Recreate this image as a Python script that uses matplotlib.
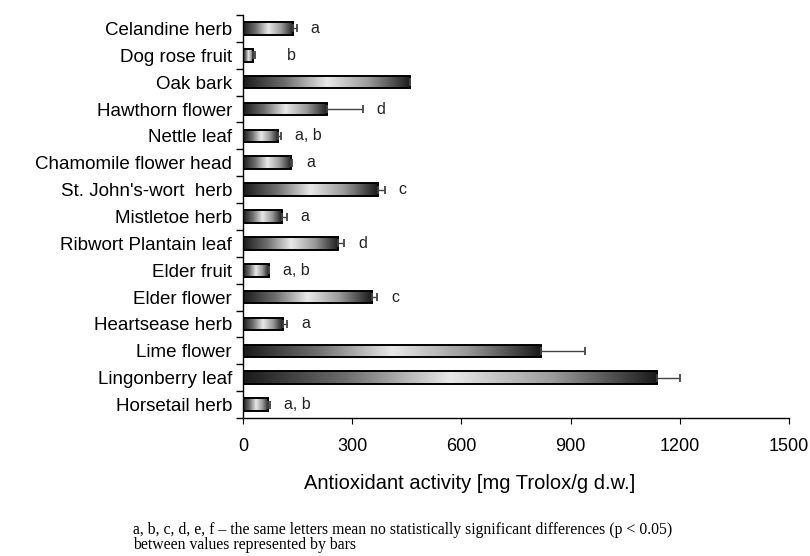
import numpy as np
import matplotlib
matplotlib.use("Agg")
import matplotlib.pyplot as plt
from matplotlib.colors import LinearSegmentedColormap
from matplotlib.patches import Rectangle

# data, top to bottom as in the chart
plants = ["Celandine herb", "Dog rose fruit", "Oak bark", "Hawthorn flower",
          "Nettle leaf", "Chamomile flower head", "St. John's-wort  herb",
          "Mistletoe herb", "Ribwort Plantain leaf", "Elder fruit",
          "Elder flower", "Heartsease herb", "Lime flower", "Lingonberry leaf",
          "Horsetail herb"]
activity = [138, 28, 459, 232, 97, 132, 370, 106, 262, 71, 354, 109, 818, 1137, 70]
sd = [9, 4, 0, 97, 7, 3, 20, 14, 16, 0, 15, 13, 122, 64, 5]
letters = ["a", "b", "", "d", "a, b", "a", "c", "a", "d", "a, b", "c", "a", "", "", "a, b"]

plt.rcParams['font.family'] = ['Liberation Sans', 'DejaVu Sans']

fig = plt.figure(figsize=(8.1, 5.56), dpi=100)
ax = fig.add_axes([243 / 810, 1 - 418 / 556, 546 / 810, 403 / 556])

y = np.arange(len(plants))
h = 0.47
cmap = LinearSegmentedColormap.from_list(
    "bar", ["#1a1a1a", "#6e6e6e", "#e8e8e8", "#9a9a9a", "#1a1a1a"])
grad = np.linspace(0, 1, 256).reshape(1, -1)

for yi, v in zip(y, activity):
    im = ax.imshow(grad, cmap=cmap, aspect="auto",
                   extent=[0, v, yi + h / 2, yi - h / 2], zorder=2)
    rect = Rectangle((0, yi - h / 2), v, h, facecolor="none",
                     edgecolor="black", linewidth=1.4, zorder=3)
    ax.add_patch(rect)
    im.set_clip_path(rect)

ax.errorbar(activity, y, xerr=[np.zeros(len(sd)), sd], fmt="none",
            ecolor="#444444", elinewidth=1.0, capsize=3, capthick=1.3, zorder=4)

for yi, v, e, t in zip(y, activity, sd, letters):
    if t:
        off = 23 if v < 40 else 10
        ax.annotate(t, (v + e, yi), xytext=(off, 0), textcoords="offset points",
                    va="center", ha="left", fontsize=11.5, color="#222222")

ax.set_xlim(0, 1500)
ax.set_ylim(len(plants) - 0.5, -0.5)
ax.set_xticks([0, 300, 600, 900, 1200, 1500])
ax.set_yticks(y)
ax.set_yticklabels(plants, fontsize=13.5)
ax.set_yticks(np.arange(len(plants) + 1) - 0.5, minor=True)
ax.tick_params(axis="y", which="major", length=0, pad=8)
ax.tick_params(axis="y", which="minor", length=5, direction="out", width=1)
ax.tick_params(axis="x", length=4.5, direction="out", labelsize=13, pad=10)
for s in ["top", "right"]:
    ax.spines[s].set_visible(False)
for s in ["left", "bottom"]:
    ax.spines[s].set_linewidth(1)
ax.set_xlabel("Antioxidant activity [mg Trolox/g d.w.]", fontsize=14.5)
ax.xaxis.set_label_coords((470 - 243) / 546, -(474 - 418) / 403)

fig.text(133 / 810, 1 - 537.5 / 556,
         "a, b, c, d, e, f \u2013 the same letters mean no statistically significant differences (p < 0.05)\nbetween values represented by bars",
         family="Liberation Serif", fontsize=11.3, va="center", ha="left", linespacing=0.9)

fig.savefig("out.png", dpi=100)
